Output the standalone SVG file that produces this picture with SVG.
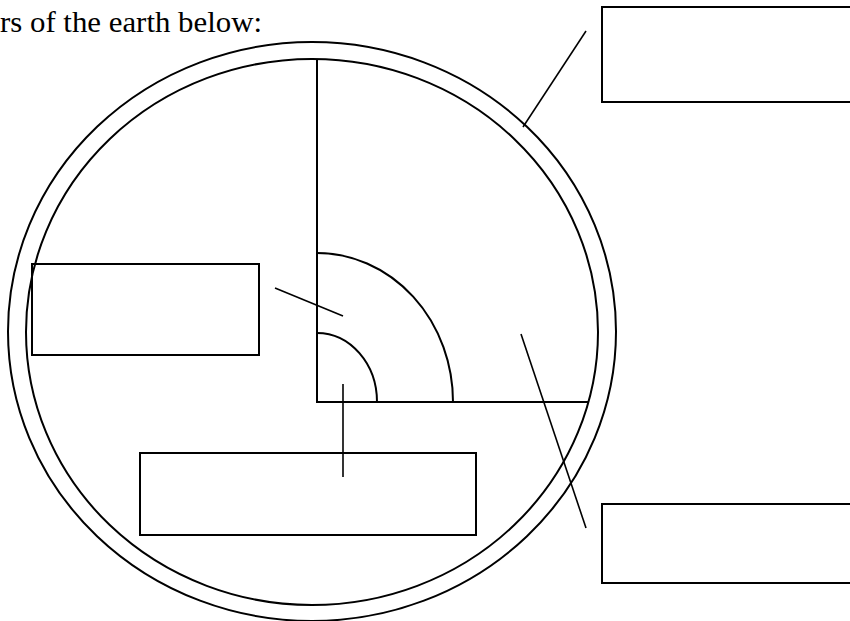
<svg xmlns="http://www.w3.org/2000/svg" width="850" height="621" viewBox="0 0 850 621">
<style>
.s{fill:none;stroke:#000;stroke-width:2}
.b{fill:none;stroke:#000;stroke-width:2}
.l{fill:none;stroke:#000;stroke-width:1.6}
.t{font-family:"Liberation Serif","Times New Roman",serif;font-size:29px;fill:#000}
</style>
<rect width="850" height="621" fill="#fff"/>
<text class="t" x="0" y="32" textLength="262" lengthAdjust="spacingAndGlyphs">rs of the earth below:</text>
<g id="earth">
<ellipse class="s" cx="312" cy="331.5" rx="304" ry="289.5"/>
<ellipse class="s" cx="312" cy="332" rx="286" ry="273"/>
<path class="s" d="M317 59 V402 H588"/>
<path class="s" d="M317 333 A60 69 0 0 1 377 402"/>
<path class="s" d="M317 253 A136 149 0 0 1 453 402"/>
</g>
<g id="connectors">
<line class="l" x1="586" y1="31" x2="523" y2="127"/>
<line class="l" x1="275" y1="288" x2="343" y2="316"/>
<line class="l" x1="343" y1="384" x2="343" y2="477"/>
<line class="l" x1="521" y1="334" x2="586" y2="528"/>
</g>
<g id="box-top-right"><rect class="b" x="602" y="7" width="260" height="95"/></g>
<g id="box-left"><rect class="b" x="32" y="264" width="227" height="91"/></g>
<g id="box-bottom"><rect class="b" x="140" y="453" width="336" height="82"/></g>
<g id="box-bottom-right"><rect class="b" x="602" y="504" width="260" height="79"/></g>
</svg>
